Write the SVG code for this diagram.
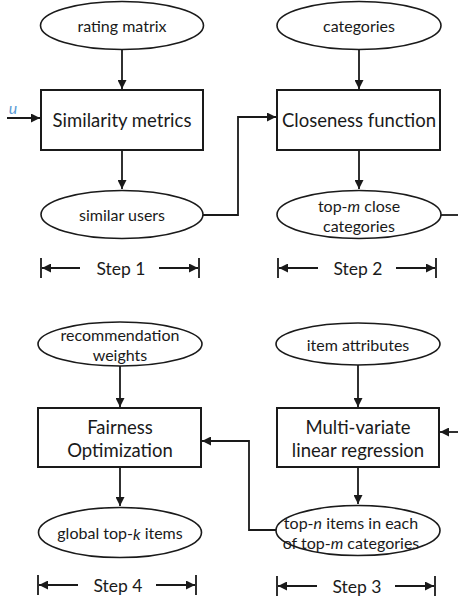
<svg xmlns="http://www.w3.org/2000/svg" width="458" height="602" viewBox="0 0 458 602">
<style>
  .bg { fill: #ffffff; }
  .ell { fill: #ffffff; stroke: #1a1a1a; stroke-width: 1.6; }
  .box { fill: #ffffff; stroke: #1a1a1a; stroke-width: 2; }
  .conn { fill: none; stroke: #1a1a1a; stroke-width: 1.8; }
  .t { font-family: "Lato", "Liberation Sans", sans-serif; fill: #1a1a1a; text-anchor: middle; dominant-baseline: central; }
  .s { font-size: 16px; }
  .b { font-size: 18.5px; }
  .st { font-size: 17.5px; }
</style>
<defs>
  <marker id="ah" viewBox="0 0 10 10" refX="10" refY="5" markerWidth="11" markerHeight="9" markerUnits="userSpaceOnUse" orient="auto-start-reverse">
    <path d="M0,0 L10,5 L0,10 z" fill="#1a1a1a"/>
  </marker>
</defs>
<rect class="bg" x="0" y="0" width="458" height="602"/>

<g id="connectors">
  <path class="conn" d="M122,49.5 V89" marker-end="url(#ah)"/>
  <path class="conn" d="M122,150 V189" marker-end="url(#ah)"/>
  <path class="conn" d="M7,118 H40" marker-end="url(#ah)"/>
  <path class="conn" d="M203,215 H238 V117 H276" marker-end="url(#ah)"/>
  <path class="conn" d="M359,49.5 V89" marker-end="url(#ah)"/>
  <path class="conn" d="M359,150 V189" marker-end="url(#ah)"/>
  <path class="conn" d="M441,215 H458"/>
  <path class="conn" d="M458,432 H440" marker-end="url(#ah)"/>
  <path class="conn" d="M358,365 V407" marker-end="url(#ah)"/>
  <path class="conn" d="M358,467 V504" marker-end="url(#ah)"/>
  <path class="conn" d="M276,530 H249 V441 H202" marker-end="url(#ah)"/>
  <path class="conn" d="M120,366 V407" marker-end="url(#ah)"/>
  <path class="conn" d="M120,467 V506" marker-end="url(#ah)"/>
</g>

<g id="u-label">
  <text x="13" y="107" font-family="Lato, 'Liberation Sans', sans-serif" font-style="italic" font-size="16" fill="#5B9BD5" text-anchor="middle" dominant-baseline="central">u</text>
</g>

<g id="rating-matrix">
  <ellipse class="ell" cx="122" cy="25.5" rx="81.5" ry="24"/>
  <text class="t s" x="122" y="25.5">rating matrix</text>
</g>
<g id="similarity-metrics">
  <rect class="box" x="41" y="90" width="162" height="60"/>
  <text class="t b" x="122" y="120">Similarity metrics</text>
</g>
<g id="similar-users">
  <ellipse class="ell" cx="122" cy="214.5" rx="81" ry="24"/>
  <text class="t s" x="122" y="214.5">similar users</text>
</g>

<g id="categories">
  <ellipse class="ell" cx="359" cy="25.5" rx="82" ry="24"/>
  <text class="t s" x="359" y="25.5">categories</text>
</g>
<g id="closeness-function">
  <rect class="box" x="277" y="90" width="163" height="60"/>
  <text class="t b" x="359" y="120">Closeness function</text>
</g>
<g id="top-m-close">
  <ellipse class="ell" cx="359" cy="214.5" rx="82" ry="24"/>
  <text class="t s" x="359" y="205">top-<tspan font-style="italic">m</tspan> close</text>
  <text class="t s" x="359" y="225">categories</text>
</g>

<g id="recommendation-weights">
  <ellipse class="ell" cx="120" cy="344" rx="82" ry="22"/>
  <text class="t s" x="120" y="334">recommendation</text>
  <text class="t s" x="120" y="354">weights</text>
</g>
<g id="fairness-optimization">
  <rect class="box" x="38" y="408" width="163" height="59"/>
  <text class="t b" x="120" y="427">Fairness</text>
  <text class="t b" x="120" y="450">Optimization</text>
</g>
<g id="global-top-k">
  <ellipse class="ell" cx="120" cy="532.5" rx="81.5" ry="25"/>
  <text class="t s" x="120" y="532.5">global top-<tspan font-style="italic">k</tspan> items</text>
</g>

<g id="item-attributes">
  <ellipse class="ell" cx="358" cy="344" rx="82" ry="21"/>
  <text class="t s" x="358" y="344">item attributes</text>
</g>
<g id="multi-variate">
  <rect class="box" x="277" y="408" width="162" height="59"/>
  <text class="t b" x="358" y="427">Multi-variate</text>
  <text class="t b" x="358" y="450">linear regression</text>
</g>
<g id="top-n-items">
  <ellipse class="ell" cx="358" cy="530.5" rx="82" ry="25"/>
  <text class="t s" x="351" y="522">top-<tspan font-style="italic">n</tspan> items in each</text>
  <text class="t s" x="351" y="542">of top-<tspan font-style="italic">m</tspan> categories</text>
</g>

<g id="step-1">
  <path class="conn" d="M41,258 V278 M199,258 V278"/>
  <path class="conn" d="M80,268 H42" marker-end="url(#ah)"/>
  <path class="conn" d="M159,268 H198" marker-end="url(#ah)"/>
  <text class="t st" x="121" y="268">Step 1</text>
</g>
<g id="step-2">
  <path class="conn" d="M278,258 V278 M436,258 V278"/>
  <path class="conn" d="M318,268 H279" marker-end="url(#ah)"/>
  <path class="conn" d="M396,268 H435" marker-end="url(#ah)"/>
  <text class="t st" x="358" y="268">Step 2</text>
</g>
<g id="step-3">
  <path class="conn" d="M277,576 V596 M435,576 V596"/>
  <path class="conn" d="M317,586 H278" marker-end="url(#ah)"/>
  <path class="conn" d="M395,586 H434" marker-end="url(#ah)"/>
  <text class="t st" x="357" y="586">Step 3</text>
</g>
<g id="step-4">
  <path class="conn" d="M38,575 V595 M196,575 V595"/>
  <path class="conn" d="M78,585 H39" marker-end="url(#ah)"/>
  <path class="conn" d="M156,585 H195" marker-end="url(#ah)"/>
  <text class="t st" x="118" y="585">Step 4</text>
</g>
</svg>
